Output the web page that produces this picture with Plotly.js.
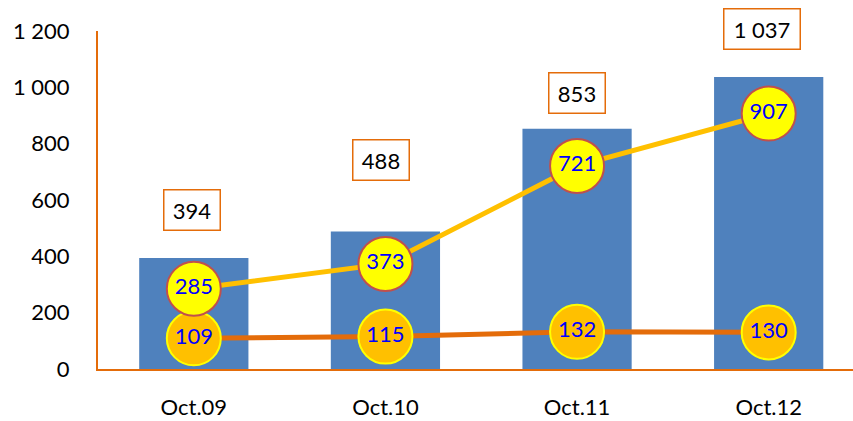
<!DOCTYPE html>
<html>
<head>
<meta charset="utf-8">
<script src="https://cdn.plot.ly/plotly-3.0.1.min.js"></script>
<style>html,body{margin:0;padding:0;background:#fff;}#chart{width:853px;height:421px;}</style>
</head>
<body>
<div id="chart"></div>
<script>
const categories = ["Oct.09", "Oct.10", "Oct.11", "Oct.12"];
const totalValues = [394, 488, 853, 1037];
const totalLabels = ["394", "488", "853", "1 037"];
const yellowValues = [285, 373, 721, 907];
const orangeValues = [109, 115, 132, 130];
const yTicks = [0, 200, 400, 600, 800, 1000, 1200];

// label placement (pixel shifts above bar tops) and box widths (px)
const labelShifts = [48, 72, 36, 48];
const labelXShifts = [-2, -4, 0, -7];
const labelWidths = [41, 41, 41, 61];

const fontFam = "Lato, 'Open Sans', sans-serif";

const traces = [
  {
    type: "bar", x: categories, y: totalValues, width: 0.57,
    marker: {color: "#4F81BD", line: {width: 0}},
    hoverinfo: "skip"
  },
  {
    type: "scatter", mode: "lines+markers+text", x: categories, y: orangeValues,
    text: orangeValues.map(String), textposition: "middle center",
    textfont: {family: fontFam, size: 22, color: "#0000FF"},
    line: {color: "#E46C0A", width: 5},
    marker: {size: 54, color: "#FFC000", line: {color: "#FFFF00", width: 2}},
    cliponaxis: false, hoverinfo: "skip"
  },
  {
    type: "scatter", mode: "lines+markers+text", x: categories, y: yellowValues,
    text: yellowValues.map(String), textposition: "middle center",
    textfont: {family: fontFam, size: 22, color: "#0000FF"},
    line: {color: "#FFC000", width: 5},
    marker: {size: 54, color: "#FFFF00", line: {color: "#C0504D", width: 2}},
    cliponaxis: false, hoverinfo: "skip"
  }
];

const annotations = categories.map((c, i) => ({
  x: c, y: totalValues[i], xref: "x", yref: "y",
  yshift: labelShifts[i], xshift: labelXShifts[i],
  text: totalLabels[i], showarrow: false,
  font: {family: fontFam, size: 22, color: "#000000"},
  bgcolor: "#FFFFFF", bordercolor: "#E46C0A", borderwidth: 1.5, borderpad: 7,
  width: labelWidths[i], height: 25
}));

const layout = {
  width: 853, height: 421,
  margin: {l: 98, r: 0, t: 31, b: 52},
  paper_bgcolor: "#FFFFFF", plot_bgcolor: "#FFFFFF",
  showlegend: false,
  separators: ", ",
  font: {family: fontFam, size: 22, color: "#000000"},
  xaxis: {
    type: "category", range: [-0.5, 3.44],
    showline: true, linecolor: "#E46C0A", linewidth: 2,
    showgrid: false, zeroline: false, ticks: "",
    tickfont: {family: fontFam, size: 22, color: "#000000"},
    ticklabelstandoff: 18, fixedrange: true
  },
  yaxis: {
    range: [0, 1200], tickvals: yTicks, tickformat: ",d",
    showline: true, linecolor: "#E46C0A", linewidth: 2,
    showgrid: false, zeroline: false, ticks: "",
    tickfont: {family: fontFam, size: 22, color: "#000000"},
    ticklabelstandoff: 22, fixedrange: true
  },
  annotations: annotations,
  bargap: 0.43
};

Plotly.newPlot("chart", traces, layout, {displayModeBar: false, staticPlot: true});
</script>
</body>
</html>
